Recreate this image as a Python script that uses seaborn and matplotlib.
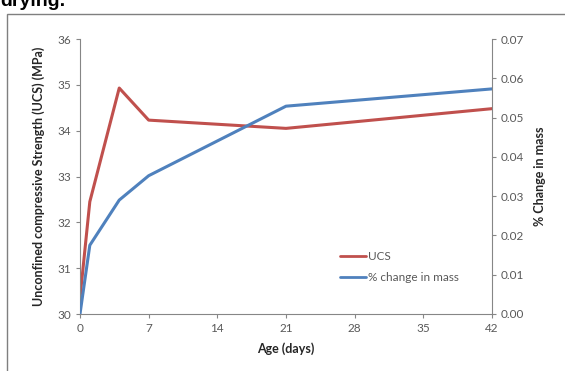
import matplotlib
matplotlib.use("Agg")
import matplotlib.pyplot as plt
import seaborn as sns
import pandas as pd
from matplotlib.patches import Rectangle
from matplotlib.lines import Line2D

age_days = [0, 1, 4, 7, 21, 42]
ucs_mpa = [30.35, 32.45, 34.93, 34.23, 34.05, 34.48]
mass_change = [0.0, 0.0175, 0.029, 0.0352, 0.0529, 0.0573]
x_ticks = [0, 7, 14, 21, 28, 35, 42]

sns.set_theme(style="white")
plt.rcParams['font.family'] = ['Lato', 'DejaVu Sans']

df = pd.DataFrame({"age": age_days, "ucs": ucs_mpa, "mass": mass_change})

fig = plt.figure(figsize=(5.65, 3.71), dpi=100)
ax = fig.add_axes([80/565, 1-314/371, 412/565, 275/371])
ax2 = ax.twinx()

red = "#C0504D"
blue = "#4F81BD"
sns.lineplot(data=df, x="age", y="ucs", ax=ax, color=red, linewidth=2.2, legend=False)
sns.lineplot(data=df, x="age", y="mass", ax=ax2, color=blue, linewidth=2.2, legend=False)

ax.set_xlim(0, 42)
ax.set_ylim(30, 36)
ax2.set_ylim(0, 0.07)
ax.set_xticks(x_ticks)
ax.set_yticks(range(30, 37))
ax2.set_yticks([i/100 for i in range(0, 8)])
ax2.set_yticklabels([f"{i/100:.2f}" for i in range(0, 8)])

gray = "#868686"
tc = "#595959"
for a in (ax, ax2):
    for s in a.spines.values():
        s.set_visible(False)
    a.tick_params(colors=gray, labelcolor=tc, labelsize=8.5, length=3, width=0.8, direction="out")
ax.spines["left"].set_visible(True)
ax.spines["bottom"].set_visible(True)
ax2.spines["right"].set_visible(True)
for s in (ax.spines["left"], ax.spines["bottom"], ax2.spines["right"]):
    s.set_color(gray)
    s.set_linewidth(0.8)
ax.tick_params(axis="both", left=True, bottom=True)
ax2.tick_params(axis="y", right=True)

ax.set_xlabel("Age (days)", fontsize=9, fontweight="bold", color="#262626", labelpad=6)
ax.set_ylabel("Unconfined compressive Strength (UCS) (MPa)", fontsize=9, fontweight="bold", color="#262626", labelpad=9)
ax2.set_ylabel("% Change in mass", fontsize=9, fontweight="bold", color="#262626", labelpad=7)

handles = [Line2D([0], [0], color=red, lw=2), Line2D([0], [0], color=blue, lw=2)]
leg = ax.legend(handles, ["UCS", "% change in mass"], loc="upper left",
                bbox_to_anchor=(255/412, 1-(246-39)/275), frameon=False,
                fontsize=8.5, handlelength=2.2, handletextpad=0.2, labelspacing=0.9, borderaxespad=0)
for t in leg.get_texts():
    t.set_color(tc)

fig.patches.append(Rectangle((7/565, -0.01), 1.0, 1 - 14/371 + 0.01, transform=fig.transFigure,
                             fill=False, edgecolor="#7f7f7f", linewidth=1.0))
fig.text(0.0, 1.0 - 1/371, "drying.", fontsize=14, fontweight="bold", color="black", va="center", ha="left",
         family=["Liberation Sans", "DejaVu Sans"])

fig.savefig("out.png", dpi=100)
